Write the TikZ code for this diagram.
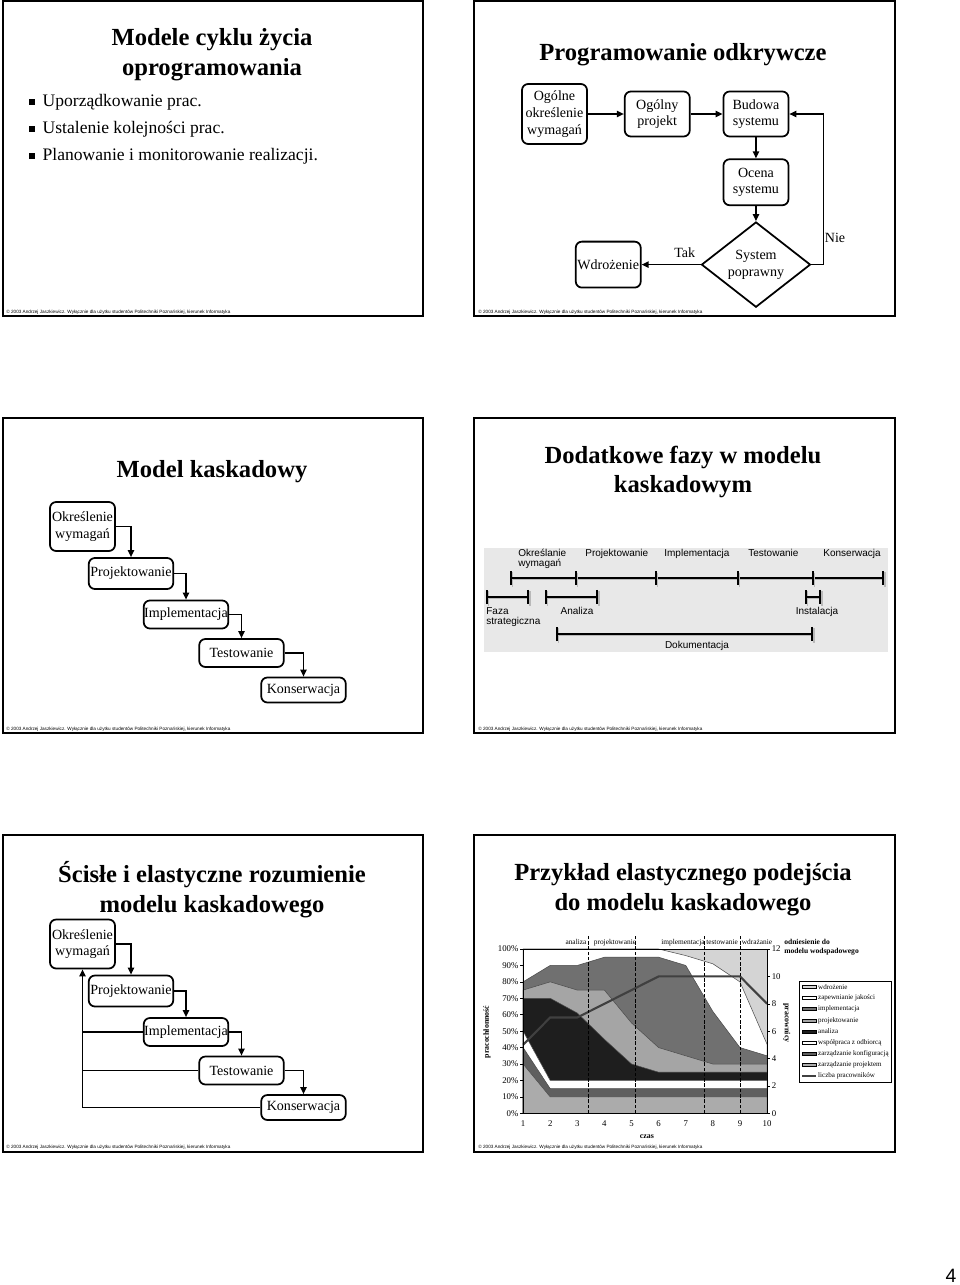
\documentclass[tikz,border=0pt]{standalone}
\usepackage{fontspec}
\setmainfont{Liberation Serif}
\setsansfont{Liberation Sans}
\usetikzlibrary{arrows.meta, positioning, shapes.geometric}

\definecolor{wdrgray}{HTML}{D4D4D4}
\definecolor{implgray}{HTML}{707070}
\definecolor{projgray}{HTML}{A5A5A5}
\definecolor{analblack}{HTML}{1E1E1E}
\definecolor{konfgray}{HTML}{5F5F5F}
\definecolor{zpgray}{HTML}{ABABAB}
\definecolor{bandgray}{HTML}{E8E8E8}

\newcommand{\footertext}{\copyright\ 2003 Andrzej Jaszkiewicz. Wyłącznie dla użytku studentów Politechniki Poznańskiej, kierunek Informatyka}
% phase bar with a soft shadow: x1, x2, y
\newcommand{\phasebar}[3]{%
  \draw[bar, draw=gray!55] (#1+1.5,#3+1.5) -- (#2+1.5,#3+1.5);
  \draw[bar] (#1,#3) -- (#2,#3);}

\begin{document}
\begin{tikzpicture}[
    x=0.02cm, y=-0.02cm,
    slide/.style={draw, line width=1.2pt},
    title/.style={font=\fontsize{14}{17}\selectfont\bfseries, align=center},
    note/.style={font=\sffamily\fontsize{2.65}{3}\selectfont, anchor=west, inner sep=0pt},
    sq/.style={fill, minimum size=3.4pt, inner sep=0pt},
    item/.style={font=\fontsize{10}{12}\selectfont, inner sep=0pt},
    box/.style={draw, rounded corners=3.5pt, line width=1pt, align=center, inner sep=0pt, font=\fontsize{8}{9.5}\selectfont},
    wide/.style={minimum width=1.69cm},
    arr/.style={-{Triangle[length=4pt, width=3.6pt]}, line width=0.8pt},
    lbl/.style={font=\fontsize{8}{9.5}\selectfont},
    phase/.style={font=\sffamily\fontsize{5.7}{5.8}\selectfont, inner sep=0pt, align=left},
    bar/.style={line width=1pt, arrows={Bar[width=8pt]-Bar[width=8pt]}},
    layer/.style={draw=black!70, line width=0.3pt},
    axisfont/.style={font=\fontsize{5}{6}\selectfont, inner sep=1pt},
    tinyfont/.style={font=\fontsize{4.2}{5}\selectfont, inner sep=0.5pt},
  ]
  \useasboundingbox (0,0) rectangle (960,1285);

  % slide frames
  \draw[slide] (3,1) rectangle (423,316);
  \draw[slide] (474,1) rectangle (895,316);
  \draw[slide] (3,418) rectangle (423,733);
  \draw[slide] (474,418) rectangle (895,733);
  \draw[slide] (3,835) rectangle (423,1152);
  \draw[slide] (474,835) rectangle (895,1152);
  \foreach \fx/\fy [count=\i] in {6/312, 478/312, 6/729, 478/729, 6/1147, 478/1147}
    \node[note] (foot\i) at (\fx,\fy) {\footertext};

  % slide 1
  \node[title] (t1) at (212,55) {Modele cyklu życia\\oprogramowania};
  \foreach \txt [count=\i] in {Uporządkowanie prac., Ustalenie kolejności prac., Planowanie i monitorowanie realizacji.} {
    \node[sq] (sq\i) at (32,75+27*\i) {};
    \node[item, right=4pt of sq\i] (it\i) {\txt};
  }

  % slide 2
  \node[title] (t2) at (683,55) {Programowanie odkrywcze};
  \node[box, minimum width=1.3cm, minimum height=1.2cm] (ogolne) at (554.5,114) {Ogólne\\określenie\\wymagań};
  \node[box, minimum width=1.3cm, minimum height=0.9cm, right=0.72cm of ogolne] (projekt) {Ogólny\\projekt};
  \node[box, minimum width=1.3cm, minimum height=0.9cm, right=0.64cm of projekt] (budowa) {Budowa\\systemu};
  \node[box, minimum width=1.3cm, minimum height=0.92cm, below=0.42cm of budowa] (ocena) {Ocena\\systemu};
  \node[draw, diamond, line width=1pt, minimum width=2.18cm, minimum height=1.46cm, inner sep=0pt,
        align=center, font=\fontsize{8}{9.5}\selectfont, below=0.3cm of ocena] (popr) {System\\poprawny};
  \node[box, minimum width=1.3cm, minimum height=0.92cm, left=1.18cm of popr] (wdr) {Wdrożenie};
  \draw[arr] (ogolne) -- (projekt);
  \draw[arr] (projekt) -- (budowa);
  \draw[arr] (budowa) -- (ocena);
  \draw[arr] (ocena) -- (popr);
  \draw[arr] (popr) -- node[lbl, above, pos=0.27] (tak) {Tak} (wdr);
  \draw[arr] (popr.east) -- ++(12,0) |- node[lbl, right, pos=0.09, inner sep=0.5pt] (nie) {Nie} (budowa.east);

  % slide 3
  \node[title] (t3) at (212,472) {Model kaskadowy};
  \node[box, minimum width=1.3cm, minimum height=0.98cm] (okrA) at (82.5,526.5) {Określenie\\wymagań};
  \node[box, wide, minimum height=0.62cm] (projA) at (131,573.5) {Projektowanie};
  \node[box, wide, minimum height=0.56cm] (implA) at (186,614.5) {Implementacja};
  \node[box, wide, minimum height=0.56cm] (testA) at (241.5,653) {Testowanie};
  \node[box, wide, minimum height=0.5cm] (konsA) at (303.5,690) {Konserwacja};
  \foreach \a/\b in {okrA/projA, projA/implA, implA/testA, testA/konsA}
    \draw[arr] (\a.east) -| (\b.north);

  % slide 4
  \node[title] (t4) at (683,472) {Dodatkowe fazy w modelu\\kaskadowym};
  \fill[bandgray] (484,548) rectangle (888,652);
  \phasebar{510}{884}{578}
  \foreach \x in {576,656,738,813} {
    \draw[gray!55, line width=1pt] (\x+1.5,572.5) -- (\x+1.5,586.5);
    \draw[line width=1pt] (\x,571) -- (\x,585);
  }
  \phasebar{486}{529}{597}
  \phasebar{545}{598}{597}
  \phasebar{805}{821}{597}
  \phasebar{556}{813}{634}
  \node[phase, anchor=north west] (okrP) at (518,549) {Określanie\\wymagań};
  \node[phase, anchor=base west] (projP) at (585,556.5) {Projektowanie};
  \node[phase, anchor=base west] (implP) at (664,556.5) {Implementacja};
  \node[phase, anchor=base west] (testP) at (748,556.5) {Testowanie};
  \node[phase, anchor=base west] (konsP) at (823,556.5) {Konserwacja};
  \node[phase, anchor=north west] (fazaP) at (486,607) {Faza\\strategiczna};
  \node[phase, anchor=base] (analP) at (577,614.5) {Analiza};
  \node[phase, anchor=base] (instP) at (817,614.5) {Instalacja};
  \node[phase, anchor=base] (dokP) at (697,648.5) {Dokumentacja};

  % slide 5
  \node[title] (t5) at (212,890) {Ścisłe i elastyczne rozumienie\\modelu kaskadowego};
  \node[box, minimum width=1.3cm, minimum height=0.98cm] (okrB) at (82.5,944) {Określenie\\wymagań};
  \node[box, wide, minimum height=0.62cm] (projB) at (131,991) {Projektowanie};
  \node[box, wide, minimum height=0.56cm] (implB) at (186,1032) {Implementacja};
  \node[box, wide, minimum height=0.56cm] (testB) at (241.5,1070.5) {Testowanie};
  \node[box, wide, minimum height=0.5cm] (konsB) at (303.5,1107.5) {Konserwacja};
  \foreach \a/\b in {okrB/projB, projB/implB, implB/testB, testB/konsB}
    \draw[arr] (\a.east) -| (\b.north);
  \draw[arr] (konsB.west) -| (okrB.south);
  \draw[line width=0.8pt] (implB.west) -- (implB.west -| okrB.south);
  \draw[line width=0.8pt] (testB.west) -- (testB.west -| okrB.south);

  % slide 6
  \node[title] (t6) at (683,890) {Przykład elastycznego podejścia\\do modelu kaskadowego};
  \begin{scope}[shift={(496,1113.3)}, x=0.5422cm, y=0.03286cm]
    \fill[wdrgray, layer] (1,0) rectangle (10,100);
    \fill[white, layer] (1,0) -- plot coordinates {(1,100) (2,100) (3,100) (4,100) (5,100) (6,100) (7,96) (8,91) (9,80) (10,42)} -- (10,0) -- cycle;
    \fill[implgray, layer] (1,0) -- plot coordinates {(1,80) (2,90) (3,90) (4,95) (5,95) (6,95) (7,90) (8,62) (9,40) (10,35)} -- (10,0) -- cycle;
    \fill[projgray, layer] (1,0) -- plot coordinates {(1,75) (2,80) (3,75) (4,75) (5,55) (6,40) (7,35) (8,30) (9,30) (10,30)} -- (10,0) -- cycle;
    \fill[analblack, layer] (1,0) -- plot coordinates {(1,70) (2,70) (3,61) (4,45) (5,30) (6,25) (7,25) (8,25) (9,25) (10,25)} -- (10,0) -- cycle;
    \fill[white, layer] (1,0) -- plot coordinates {(1,50) (2,20) (10,20)} -- (10,0) -- cycle;
    \fill[konfgray, layer] (1,0) -- plot coordinates {(1,40) (2,15) (10,15)} -- (10,0) -- cycle;
    \fill[zpgray, layer] (1,0) -- plot coordinates {(1,30) (2,10) (10,10)} -- (10,0) -- cycle;
    % liczba pracownikow
    \draw[line width=1.2pt, black!75] plot coordinates {(1,41.67) (2,58.33) (3,58.33) (4,66.67) (5,75) (6,83.33) (7,83.33) (8,83.33) (9,83.33) (10,66.67)};
    \foreach \t in {3.4,5.15,7.7,9.0}
      \draw[line width=0.3pt, dash pattern=on 2pt off 1pt] (\t,0) -- (\t,108);
    \draw[line width=0.4pt] (1,0) rectangle (10,100);
    \foreach \p in {0,10,...,100}
      \draw[line width=0.3pt] (1,\p) -- ++(-0.1,0) node[axisfont, left] (ly\p) {\p\%};
    \foreach \v in {0,2,...,12}
      \draw[line width=0.3pt] (10,\v*8.3333) -- ++(0.1,0) node[axisfont, right] (ry\v) {\v};
    \foreach \t in {1,...,10}
      \node[axisfont] (xl\t) at (\t,-6.5) {\t};
    \node[axisfont, font=\bfseries\fontsize{4.5}{5}\selectfont] (czas) at (5.57,-14) {czas};
    \node[axisfont, font=\bfseries\fontsize{4.5}{5}\selectfont, rotate=90] (pracoch) at (-0.33,49.5) {pracochłonność};
    \node[axisfont, font=\bfseries\fontsize{4.5}{5}\selectfont, rotate=-90] (pracow) at (10.73,55) {pracownicy};
    \node[tinyfont] (fa) at (2.95,104) {analiza};
    \node[tinyfont] (fp) at (4.39,104) {projektowanie};
    \node[tinyfont] (fi) at (6.9,104) {implementacja};
    \node[tinyfont] (ft) at (8.34,104) {testowanie};
    \node[tinyfont] (fw) at (9.63,104) {wdrażanie};
    \node[tinyfont, font=\bfseries\fontsize{4.3}{5.4}\selectfont, align=left, anchor=north west] (odn) at (10.59,106.7) {odniesienie do\\modelu wodspadowego};
  \end{scope}
  % legend
  \draw[line width=0.4pt] (799,981) rectangle (891,1082);
  \foreach \c/\txt [count=\k from 0] in {wdrgray/wdrożenie, white/zapewnianie jakości, implgray/implementacja, projgray/projektowanie, analblack/analiza, white/współpraca z odbiorcą, konfgray/zarządzanie konfiguracją, zpgray/zarządzanie projektem} {
    \draw[fill=\c, line width=0.3pt] (802,985.5+11.1*\k) rectangle (816,988.5+11.1*\k);
    \node[tinyfont, font=\fontsize{4}{5}\selectfont, anchor=west] (lg\k) at (817,987+11.1*\k) {\txt};
  }
  \draw[line width=1pt, black!75] (802,1075.8) -- (816,1075.8);
  \node[tinyfont, font=\fontsize{4}{5}\selectfont, anchor=west] (lg8) at (817,1075.8) {liczba pracowników};

  % page number
  \node[font=\sffamily\fontsize{11}{12}\selectfont] (pagenum) at (951,1276) {4};
\end{tikzpicture}
\end{document}
